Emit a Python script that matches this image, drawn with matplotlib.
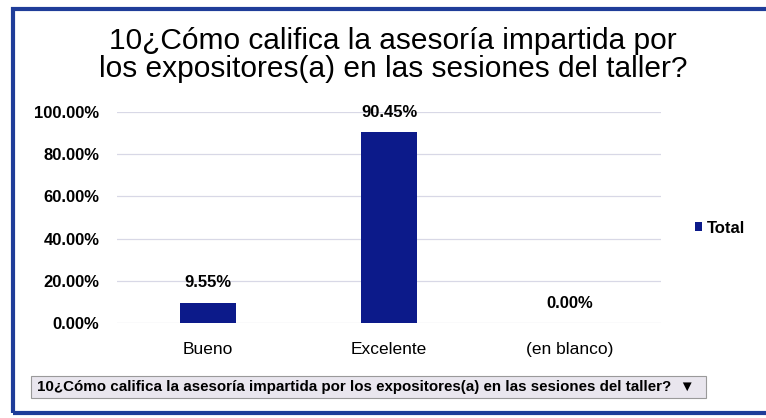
import matplotlib.pyplot as plt
from matplotlib.patches import Rectangle, FancyBboxPatch
from matplotlib.ticker import FuncFormatter

# Data
categories = ["Bueno", "Excelente", "(en blanco)"]
values = [0.0955, 0.9045, 0.0]
yticks = [0.0, 0.2, 0.4, 0.6, 0.8, 1.0]
title = "10¿Cómo califica la asesoría impartida por\nlos expositores(a) en las sesiones del taller?"
field_label = "10¿Cómo califica la asesoría impartida por los expositores(a) en las sesiones del taller?"

plt.rcParams['font.family'] = ['Liberation Sans', 'DejaVu Sans']

W, H = 766, 418
fig = plt.figure(figsize=(W / 100, H / 100), dpi=100)
fig.patch.set_facecolor("white")

# outer frame of the screenshot
fig.patches.append(Rectangle((13 / W, 5 / H), 1.0, (H - 14) / H,
                             transform=fig.transFigure, fill=False,
                             edgecolor="#1f3d99", linewidth=3))

ax = fig.add_axes([117.5 / W, 95 / H, 543 / W, 211 / H])
x = range(len(categories))
ax.bar(x, values, width=0.31, color="#0c1a8a", zorder=3)

ax.set_ylim(0, 1.0)
ax.set_xlim(-0.5, len(categories) - 0.5)
ax.set_yticks(yticks)
ax.yaxis.set_major_formatter(FuncFormatter(lambda v, p: f"{v * 100:.2f}%"))
ax.set_xticks(list(x))
ax.set_xticklabels(categories, fontsize=12.5)
ax.tick_params(axis="y", length=0, pad=13, labelsize=12)
ax.tick_params(axis="x", length=0, pad=14)
for lbl in ax.get_yticklabels():
    lbl.set_fontweight("bold")
ax.grid(axis="y", color="#d8d8e6", linewidth=0.9, zorder=0)
for s in ax.spines.values():
    s.set_visible(False)

# data labels
for xi, v in zip(x, values):
    ax.annotate(f"{v * 100:.2f}%", (xi, v), xytext=(0, 9), textcoords="offset points",
                ha="center", va="bottom", fontsize=12, fontweight="bold")

# legend
ax.bar([0], [0], color="#0c1a8a", label="Total")
leg = ax.legend(loc="center left", bbox_to_anchor=(1.035, 0.45), frameon=False,
                handlelength=0.45, handleheight=0.45, handletextpad=0.3,
                prop={"size": 12, "weight": "bold"})

fig.text(393 / W, 1 - 55 / H, title, ha="center", va="center",
         fontsize=21.5, linespacing=1.03)

# pivot field button
fig.patches.append(FancyBboxPatch((31 / W, 1 - 398 / H), 675 / W, 22 / H,
                                  boxstyle="square,pad=0", transform=fig.transFigure,
                                  facecolor="#e9e6ee", edgecolor="#9a9a9a", linewidth=0.8))
fig.text(37 / W, 1 - 387 / H, field_label + "  \u25BC", ha="left", va="center",
         fontsize=10.9, fontweight="bold")

fig.savefig("out.png", dpi=100)
